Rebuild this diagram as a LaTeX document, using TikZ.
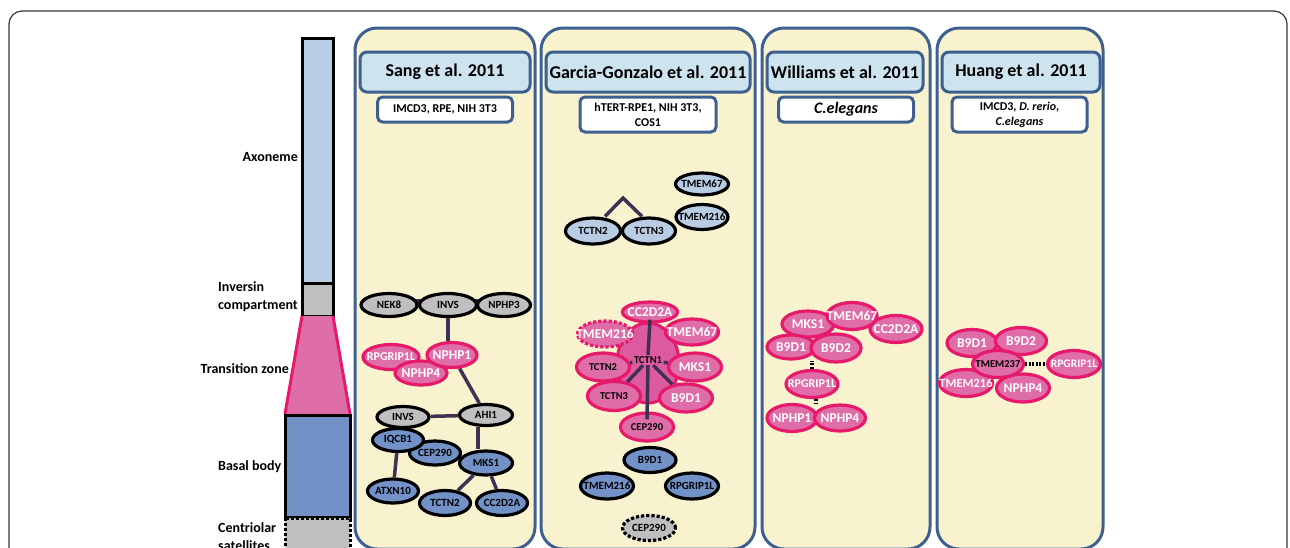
\documentclass[tikz,border=0pt]{standalone}
\usepackage{fontspec}
\setmainfont{Carlito}
\usetikzlibrary{shapes.geometric}
\definecolor{fondpan}{HTML}{F8F3CE}
\definecolor{bordpan}{HTML}{3D6090}
\definecolor{fondtitre}{HTML}{CDE3EE}
\definecolor{rosefond}{HTML}{DF6DA8}
\definecolor{rosefonce}{HTML}{DC5A9F}
\definecolor{cramoisi}{HTML}{E6196B}
\definecolor{grisfond}{HTML}{BFBFBF}
\definecolor{bleufond}{HTML}{7191C7}
\definecolor{bleuclair}{HTML}{B8CCE4}
\definecolor{lienfond}{HTML}{403152}

\tikzset{
  panneau/.style={draw=bordpan, line width=3pt, fill=fondpan, rounded corners=22pt},
  titre/.style={draw=bordpan, line width=3pt, fill=fondtitre, rounded corners=7pt, minimum height=40pt, inner sep=0pt, font=\bfseries\fontsize{18}{20}\selectfont},
  soustitre/.style={draw=bordpan, line width=3pt, fill=white, rounded corners=5pt, inner sep=0pt, align=center, font=\bfseries\fontsize{12}{15}\selectfont},
  % le texte ne change pas la taille de l'ellipse
  prot/.style={ellipse, draw=black, line width=3.2pt, minimum width=52pt, minimum height=23pt, inner sep=0pt,
    execute at begin node={\hbox to 0pt\bgroup\hss}, execute at end node={\hss\egroup},
    font=\bfseries\fontsize{11}{12}\selectfont},
  pgris/.style={prot, fill=grisfond},
  pbleu/.style={prot, fill=bleufond},
  pbleuc/.style={prot, fill=bleuclair},
  prose/.style={prot, draw=cramoisi, fill=rosefond, text=white, font=\bfseries\fontsize{13.5}{15}\selectfont},
  prosen/.style={prot, draw=cramoisi, fill=rosefond, font=\bfseries\fontsize{10.5}{12}\selectfont},
  lien/.style={draw=lienfond, line width=3.5pt},
  pointille/.style={draw=black, line width=4pt, dash pattern=on 2pt off 1.5pt},
  zone/.style={font=\bfseries\fontsize{14}{18}\selectfont, align=left, inner sep=0pt}
}

\begin{document}
\begin{tikzpicture}[x=1pt,y=-1pt]
	\clip (0,0) rectangle (1290,547);
	
	% Cadre extérieur
	\draw[black!80, line width=1.2pt, rounded corners=13pt] (9,11) rectangle (1287,620);
	
	% Barre de gauche : le cil
	\filldraw[fill=bleuclair, line width=3pt] (302,38) rectangle (333,283);
	\filldraw[fill=grisfond, line width=3pt] (302,283) rectangle (333,316);
	\fill[rosefond] (302,316) -- (333,316) -- (350,414) -- (285,414) -- cycle;
	\draw[cramoisi, line width=3pt] (302,316) -- (285,414) (333,316) -- (350,414);
	\filldraw[fill=bleufond, line width=3pt] (285,415) rectangle (350,517);
	\filldraw[fill=grisfond, line width=3pt, dotted] (285,518) rectangle (350,620);
	
	% Noms des zones
	\node[zone, anchor=east] (axo) at (298,157) {Axoneme};
	\node[zone, anchor=west] (inv) at (218,297) {Inversin\\compartment};
	\node[zone, anchor=east] (trans) at (289,369) {Transition zone};
	\node[zone, anchor=west] (basal) at (218,467) {Basal body};
	\node[zone, anchor=west] (satel) at (218,537) {Centriolar\\satellites};
	
	% Panneaux
	\draw[panneau] (355,28) rectangle (535,549);
	\draw[panneau] (541,28) rectangle (755,549);
	\draw[panneau] (762,28) rectangle (930,549);
	\draw[panneau] (937,28) rectangle (1103,549);
	
	% Titres et lignées cellulaires
	\node[titre, minimum width=170pt] (tsang) at (445,72) {Sang et al. 2011};
	\node[soustitre, minimum width=135pt, minimum height=25pt] (csang) at (445,109.5) {IMCD3, RPE, NIH 3T3};
	\node[titre, minimum width=204pt] (tgarcia) at (648,72) {Garcia-Gonzalo et al. 2011};
	\node[soustitre, minimum width=136pt, minimum height=35pt] (cgarcia) at (648,114.5) {hTERT-RPE1, NIH 3T3,\\COS1};
	\node[titre, minimum width=156pt] (twill) at (845,72) {Williams et al. 2011};
	\node[soustitre, minimum width=135pt, minimum height=25pt, font=\bfseries\itshape\fontsize{16}{18}\selectfont] (cwill) at (846,109.5) {C.elegans};
	\node[titre, minimum width=158pt] (thuang) at (1021,72) {Huang et al. 2011};
	\node[soustitre, minimum width=135pt, minimum height=35pt] (chuang) at (1019.5,114.5) {IMCD3, \textit{D. rerio},\\\textit{C.elegans}};
	
	% Sang et al. : réseau
	\coordinate (cnek) at (389,305);
	\coordinate (cinvs) at (448,305);
	\coordinate (cnphp) at (504,305);
	\draw[lien] ([yshift=4pt]cnek) -- ([yshift=4pt]cnphp);
	\node[pgris, minimum width=56pt] (nekh) at (cnek) {NEK8};
	\node[pgris, minimum width=57pt] (invs) at (cinvs) {INVS};
	\node[pgris, minimum width=53pt] (nphptrois) at (cnphp) {NPHP3};
	
	\node[prose, minimum width=56pt, minimum height=25pt, font=\bfseries\fontsize{12}{13}\selectfont] (rpgs) at (391,357) {RPGRIP1L};
	\node[prose, minimum width=52pt, minimum height=24pt] (nphpquatres) at (421,373) {NPHP4};
	\node[prose, minimum width=50pt, minimum height=25pt] (nphpuns) at (452,355) {NPHP1};
	
	\node[pgris, minimum height=21pt] (invsb) at (403,417) {INVS};
	\node[pgris, minimum width=53pt, minimum height=21pt] (ahi) at (486,415) {AHI1};
	\node[pbleu, minimum width=51pt, minimum height=24pt] (ceps) at (435,453) {CEP290};
	\node[pbleu, minimum width=51pt] (iqcb) at (398,440) {IQCB1};
	\node[pbleu, minimum width=53pt, minimum height=24pt] (mkss) at (486,463) {MKS1};
	\node[pbleu, minimum width=51pt, minimum height=24pt] (atxn) at (393,491) {ATXN10};
	\node[pbleu, minimum width=51pt, minimum height=25pt] (tctns) at (445,503) {TCTN2};
	\node[pbleu, minimum width=51pt, minimum height=25pt] (ccs) at (502,503) {CC2D2A};
	
	\draw[lien] (invs) -- (invs.south |- nphpuns.north);
	\draw[lien] (nphpuns) -- (ahi);
	\draw[lien] (invsb) -- (ahi);
	\draw[lien] (iqcb) -- (atxn);
	\draw[lien] ([xshift=-8pt]ahi.south) -- ([xshift=-8pt]mkss.north);
	\draw[lien] (mkss) -- (tctns);
	\draw[lien] (mkss) -- (ccs);
	
	% Garcia-Gonzalo et al. : partie haute
	\node[pbleuc, minimum width=55pt, minimum height=26pt] (tctndeuxg) at (593,231) {TCTN2};
	\node[pbleuc, minimum width=53pt, minimum height=26pt] (tctntroisg) at (649,231) {TCTN3};
	\node[pbleuc, minimum width=53pt, minimum height=22pt] (tmemsg) at (702,184) {TMEM67};
	\node[pbleuc, minimum width=52pt, minimum height=25pt] (tmemdg) at (702,217) {TMEM216};
	\coordinate (sommet) at (623,198);
	\draw[lien] ([xshift=12pt]tctndeuxg.north) -- (sommet) -- ([xshift=-7pt]tctntroisg.north);
	
	% Garcia-Gonzalo et al. : TCTN1 et ses partenaires
	\node[ellipse, fill=rosefonce, draw=cramoisi, line width=3pt, minimum width=62pt, minimum height=80pt] (masse) at (648,363) {};
	\node[prose, minimum width=55pt, minimum height=20pt] (ccg) at (650,312) {CC2D2A};
	\node[prose, dotted, minimum width=55pt, minimum height=26pt] (tmemdr) at (605,334) {TMEM216};
	\node[prose, minimum width=53pt, minimum height=26pt] (tmemsr) at (692,332) {TMEM67};
	\node[prosen, minimum width=53pt, minimum height=28pt] (tctndeuxr) at (603,367) {TCTN2};
	\node[prose, minimum width=53pt, minimum height=28pt] (mksg) at (695,367) {MKS1};
	\node[prosen, minimum width=53pt, minimum height=29pt] (tctntroisr) at (614,396) {TCTN3};
	\node[prose, minimum width=53pt, minimum height=28pt] (bneufr) at (686,398) {B9D1};
	\node[prosen, minimum width=53pt, minimum height=28pt] (cepr) at (647,427) {CEP290};
	\node[font=\bfseries\fontsize{10.5}{12}\selectfont, inner sep=1.5pt] (tctnun) at (648,360) {TCTN1};
	
	\draw[lien] (tctnun.north) -- ([yshift=4pt]ccg.south);
	\draw[lien] (tctnun) -- (tctndeuxr);
	\draw[lien] (tctnun) -- (mksg);
	\draw[lien] (tctnun) -- (tctntroisr);
	\draw[lien] (tctnun) -- (bneufr);
	\draw[lien] (tctnun.south) -- ([yshift=-8pt]cepr.north);
	
	% Garcia-Gonzalo et al. : corps basal
	\node[pbleu, minimum width=52pt, minimum height=25pt] (bneufg) at (650,460) {B9D1};
	\node[pbleu, minimum width=53pt, minimum height=26pt] (tmemdb) at (607,486) {TMEM216};
	\node[pbleu, minimum width=53pt, minimum height=26pt] (rpgg) at (692,486) {RPGRIP1L};
	\node[pgris, dotted, minimum width=53pt, minimum height=25pt] (cepg) at (649,528) {CEP290};
	
	% Williams et al.
	\node[prose, minimum width=52pt, minimum height=26pt] (mksw) at (808,324) {MKS1};
	\node[prose, minimum width=52pt, minimum height=27pt] (ccw) at (896,329) {CC2D2A};
	\node[prose, minimum width=50pt, minimum height=27pt] (tmemw) at (852,316) {TMEM67};
	\node[prose, minimum width=48pt, minimum height=24pt] (bneufw) at (791,347) {B9D1};
	\node[prose, minimum width=50pt, minimum height=28pt] (bdixw) at (836,348) {B9D2};
	\node[prose, minimum width=52pt, minimum height=27pt, font=\bfseries\fontsize{12}{14}\selectfont] (rpgw) at (812,384) {RPGRIP1L};
	\node[prose, minimum width=50pt, minimum height=27pt] (nphpunw) at (792,418) {NPHP1};
	\node[prose, minimum width=51pt, minimum height=26pt] (nphpquatrew) at (840,418) {NPHP4};
	\draw[pointille] (rpgw.north) -- (rpgw.north |- bneufw.south);
	\draw[pointille] ([xshift=4pt]rpgw.south) -- ([xshift=4pt]rpgw.south |- nphpunw.north);
	
	% Huang et al.
	\node[prose, minimum width=53pt, minimum height=27pt, font=\bfseries\fontsize{12.5}{14}\selectfont] (tmemh) at (966,383) {TMEM216};
	\node[prose, minimum width=53pt, minimum height=28pt] (nphph) at (1023,388) {NPHP4};
	\node[prose, minimum width=50pt, minimum height=27pt] (bneufh) at (972,343) {B9D1};
	\node[prose, minimum width=51pt, minimum height=27pt] (bdixh) at (1021,341) {B9D2};
	\node[prosen, minimum width=51pt, minimum height=27pt] (tmemtroish) at (998,364) {TMEM237};
	\node[prose, minimum width=53pt, minimum height=27pt, font=\bfseries\fontsize{11.5}{14}\selectfont] (rpgh) at (1074,364) {RPGRIP1L};
	\draw[pointille] (tmemtroish) -- (rpgh);
	
\end{tikzpicture}
\end{document}
